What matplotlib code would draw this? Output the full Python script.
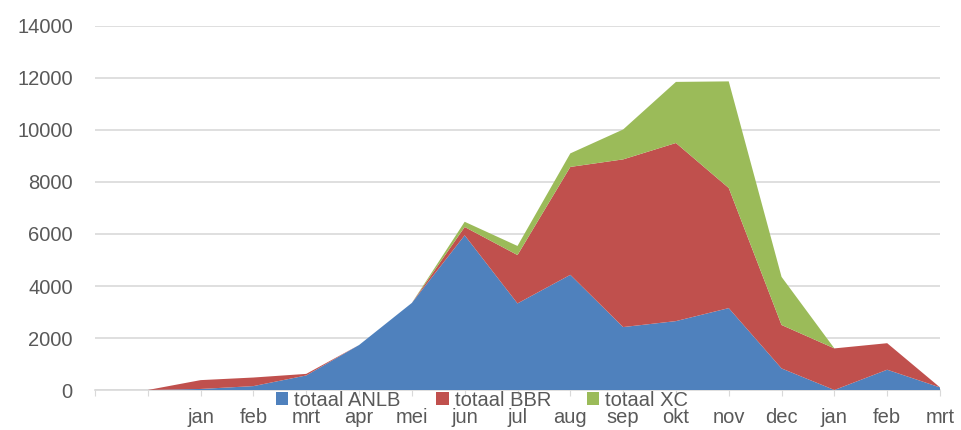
import matplotlib.pyplot as plt
import numpy as np

months = ['', '', 'jan', 'feb', 'mrt', 'apr', 'mei', 'jun', 'jul', 'aug',
          'sep', 'okt', 'nov', 'dec', 'jan', 'feb', 'mrt']
anlb = [0, 0, 40, 150, 560, 1730, 3350, 5950, 3330, 4430, 2420, 2650, 3150, 830, 0, 780, 100]
bbr = [0, 0, 340, 330, 60, 0, 0, 320, 1860, 4150, 6450, 6850, 4620, 1670, 1600, 1020, 0]
xc = [0, 0, 0, 0, 0, 0, 0, 200, 350, 520, 1150, 2350, 4100, 1850, 0, 0, 0]

blue = '#4F81BD'
red = '#C0504D'
green = '#9BBB59'
grey = '#595959'

plt.rcParams['font.family'] = ['Liberation Sans', 'DejaVu Sans']

fig = plt.figure(figsize=(9.61, 4.30), dpi=100)
ax = fig.add_axes([95 / 961, 40 / 430, 845 / 961, 364 / 430])

x = np.arange(len(months))
ax.stackplot(x, anlb, bbr, xc, colors=[blue, red, green],
             labels=['totaal ANLB', 'totaal BBR', 'totaal XC'], linewidth=0)

ax.set_xlim(0, len(months) - 1)
ax.set_ylim(0, 14000)
ax.set_yticks(range(0, 14001, 2000))
ax.set_xticks(x)
ax.set_xticklabels(months)

ax.grid(axis='y', color='#D9D9D9', linewidth=1.2)
ax.set_axisbelow(True)
for s in ['top', 'right', 'left']:
    ax.spines[s].set_visible(False)
ax.spines['bottom'].set_color('#D9D9D9')
ax.spines['bottom'].set_linewidth(1.2)
ax.spines['bottom'].set_zorder(0)

ax.tick_params(axis='y', length=0, pad=16, labelsize=14.5, labelcolor=grey)
ax.tick_params(axis='x', length=4, color='#D9D9D9', pad=9, labelsize=14.5, labelcolor=grey)

fig.legend(loc='center', bbox_to_anchor=(482 / 961, 1 - 400 / 430), ncol=3,
           frameon=False, fontsize=14.5, labelcolor=grey, handlelength=0.6,
           handleheight=0.6, handletextpad=0.3, columnspacing=1.8,
           borderaxespad=0, borderpad=0)

fig.savefig('out.png', dpi=100)
